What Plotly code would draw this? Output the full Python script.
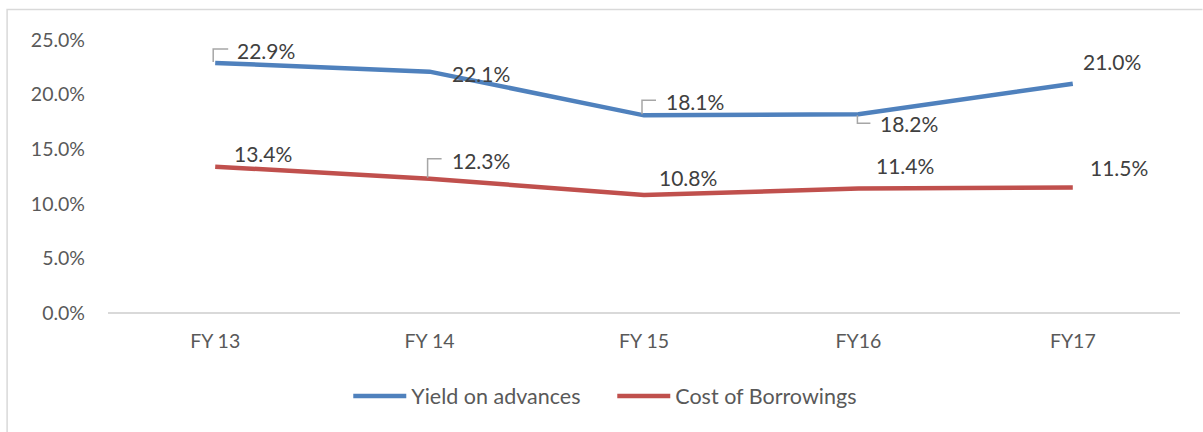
import plotly.graph_objects as go

categories = ["FY 13", "FY 14", "FY 15", "FY16", "FY17"]
yield_on_advances = [22.9, 22.1, 18.1, 18.2, 21.0]
cost_of_borrowings = [13.4, 12.3, 10.8, 11.4, 11.5]
y_tick_values = [0, 5, 10, 15, 20, 25]
y_tick_labels = ["0.0%", "5.0%", "10.0%", "15.0%", "20.0%", "25.0%"]

BLUE = "#4F81BD"
RED = "#C0504D"
TEXT = "#404040"
FONT = "Lato"

# label offsets in pixels (dx, dy) for each point
yield_offsets = [(51, 12), (51, -2), (51, 14), (51, -9), (39, 22)]
cost_offsets = [(48, 13), (51, 18), (44, 18), (47, 23), (46, 20)]
# leader-line paths (pixel offsets from point); None = no leader
yield_leaders = ["M -2,1 L -2,14 L 13,14", None, "M -2,1 L -2,15 L 12,15", "M -1,-1 L -1,-9 L 12,-9", None]
cost_leaders = [None, "M -2,1 L -2,20 L 12,20", None, None, None]

xs = list(range(len(categories)))

fig = go.Figure()
fig.add_trace(go.Scatter(x=xs, y=yield_on_advances, mode="lines", name="Yield on advances",
                         line=dict(color=BLUE, width=4.5)))
fig.add_trace(go.Scatter(x=xs, y=cost_of_borrowings, mode="lines", name="Cost of Borrowings",
                         line=dict(color=RED, width=4.5)))

for vals, offs, leaders in [(yield_on_advances, yield_offsets, yield_leaders),
                            (cost_of_borrowings, cost_offsets, cost_leaders)]:
    for i, v in enumerate(vals):
        dx, dy = offs[i]
        fig.add_annotation(x=xs[i], y=v, xref="x", yref="y", text=f"{v:.1f}%",
                           showarrow=False, xshift=dx, yshift=dy,
                           font=dict(family=FONT, size=21, color=TEXT))
        if leaders[i]:
            fig.add_shape(type="path", xref="x", yref="y", xsizemode="pixel", ysizemode="pixel",
                          xanchor=xs[i], yanchor=v, path=leaders[i],
                          line=dict(color="#A6A6A6", width=1.5))

W, H = 1203, 432
L, R, T, B = 107.5, 22.5, 40, 119
pw, ph = W - L - R, H - T - B
# outer chart border (only top and left edges fall inside the picture)
bx0, bx1 = (6.5 - L) / pw, (1203 - L) / pw
by0, by1 = (H - B - 432) / ph, (H - B - 9.5) / ph
fig.add_shape(type="path", xref="paper", yref="paper",
              path=f"M {bx0},{by0} L {bx0},{by1} L {bx1},{by1}",
              line=dict(color="#D9D9D9", width=1.5), layer="below")

fig.update_layout(
    width=W, height=H,
    margin=dict(l=L, r=R, t=T, b=B, autoexpand=False),
    paper_bgcolor="white", plot_bgcolor="white",
    font=dict(family=FONT, size=20, color="#595959"),
    xaxis=dict(tickvals=xs, ticktext=categories, range=[-0.5, len(categories) - 0.5],
               showgrid=False, zeroline=False, showline=False, ticks="", ticklabelstandoff=14,
               tickfont=dict(family=FONT, size=19.5, color="#595959")),
    yaxis=dict(range=[0, 25], tickvals=y_tick_values, ticktext=y_tick_labels,
               showgrid=False, zeroline=True, zerolinecolor="#D9D9D9", zerolinewidth=1.5,
               showline=False, ticks="", ticklabelstandoff=22,
               tickfont=dict(family=FONT, size=19.5, color="#595959")),
    legend=dict(orientation="h", x=(348 - L) / pw, xanchor="left",
                y=(H - B - 396) / ph, yanchor="middle",
                font=dict(family=FONT, size=21.5, color="#595959"),
                itemwidth=53, entrywidth=196, traceorder="normal"),
    showlegend=True,
)

fig.write_html("out.html", config={"displayModeBar": False},
               post_script="document.body.style.margin='0';")
